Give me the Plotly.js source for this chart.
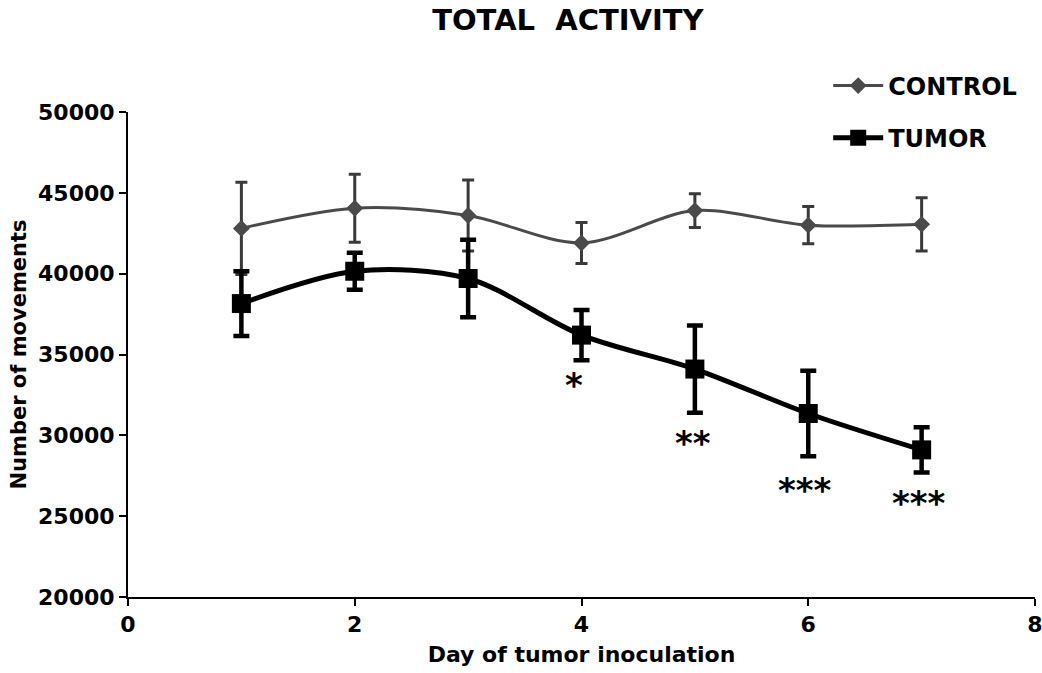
<!DOCTYPE html>
<html>
<head>
<meta charset="utf-8">
<script src="https://cdn.plot.ly/plotly-3.0.1.min.js"></script>
<style>html,body{margin:0;padding:0;background:#fff;}#chart{width:1042px;height:673px;}</style>
</head>
<body>
<div id="chart"></div>
<script>
const days = [1, 2, 3, 4, 5, 6, 7];
const controlMean = [42800, 44050, 43600, 41900, 43900, 43000, 43050];
const controlErr  = [2850, 2100, 2200, 1270, 1050, 1150, 1650];
const tumorMean   = [38150, 40150, 39700, 36200, 34100, 31350, 29100];
const tumorErr    = [2000, 1150, 2400, 1550, 2700, 2650, 1400];
const sigDays   = [4, 5, 6, 7];
const sigLabels = ["*", "**", "***", "***"];
const sigY      = [33100, 29500, 26600, 25800];

const FONT = "DejaVu Sans, Arial, sans-serif";

const traces = [
  {
    x: days, y: controlMean, name: "CONTROL", type: "scatter", mode: "lines+markers",
    legendgroup: "c",
    line: {color: "#4a4a4a", width: 3, shape: "spline", smoothing: 0.9},
    marker: {symbol: "diamond", size: 13, color: "#4a4a4a"},
    error_y: {type: "data", array: controlErr, visible: true, color: "#3a3a3a", thickness: 3, width: 6}
  },
  {
    x: days, y: tumorMean, name: "TUMOR", type: "scatter", mode: "lines+markers",
    legendgroup: "t",
    line: {color: "#000000", width: 5, shape: "spline", smoothing: 0.9},
    marker: {symbol: "square", size: 19, color: "#000000"},
    error_y: {type: "data", array: tumorErr, visible: true, color: "#000000", thickness: 4.5, width: 8}
  }
];

const annotations = sigDays.map((d, i) => ({
  x: d, y: sigY[i], xref: "x", yref: "y", text: sigLabels[i], showarrow: false,
  xshift: (i === 0 ? -8 : (i === 1 ? -2 : -3)),
  font: {family: FONT, size: 34, color: "#000", weight: "bold"}
}));

const layout = {
  width: 1042, height: 673,
  paper_bgcolor: "#fff", plot_bgcolor: "#fff",
  margin: {l: 128, r: 7, t: 112, b: 76},
  font: {family: FONT, color: "#000"},
  title: {text: "TOTAL  ACTIVITY", x: 0.545, xanchor: "center", y: 0.985, yanchor: "top",
          font: {family: FONT, size: 29, weight: "bold", color: "#000"}},
  showlegend: true,
  legend: {x: 0.772, xanchor: "left", y: 1.1, yanchor: "top", traceorder: "grouped",
           tracegroupgap: 18, itemwidth: 50, bgcolor: "rgba(0,0,0,0)",
           font: {family: FONT, size: 24, weight: "bold", color: "#000"}},
  xaxis: {
    range: [0, 8], tickvals: [0, 2, 4, 6, 8], ticktext: ["0", "2", "4", "6", "8"],
    ticklabeloverflow: "allow",
    showgrid: false, zeroline: false, showline: true, linecolor: "#000", linewidth: 2,
    ticks: "outside", ticklen: 7, tickwidth: 2, tickcolor: "#000",
    tickfont: {family: FONT, size: 22, weight: "bold"},
    title: {text: "Day of tumor inoculation", standoff: 10, font: {family: FONT, size: 22, weight: "bold"}}
  },
  yaxis: {
    range: [20000, 50000], tickvals: [20000, 25000, 30000, 35000, 40000, 45000, 50000],
    ticktext: ["20000", "25000", "30000", "35000", "40000", "45000", "50000"],
    ticklabeloverflow: "allow",
    showgrid: false, zeroline: false, showline: true, linecolor: "#000", linewidth: 2,
    ticks: "outside", ticklen: 7, tickwidth: 2, tickcolor: "#000",
    tickfont: {family: FONT, size: 22, weight: "bold"},
    title: {text: "Number of movements", standoff: 6, font: {family: FONT, size: 21, weight: "bold"}}
  },
  annotations: annotations
};

Plotly.newPlot("chart", traces, layout, {displayModeBar: false, staticPlot: true});
</script>
</body>
</html>
